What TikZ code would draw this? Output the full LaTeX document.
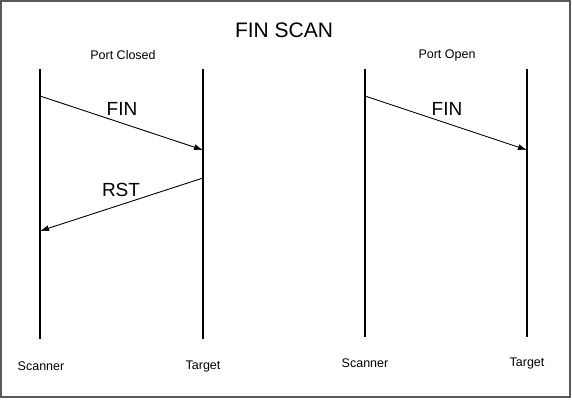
\documentclass[tikz,border=0pt]{standalone}
\usepackage{fontspec}
\setmainfont{Liberation Sans}
\usetikzlibrary{arrows.meta,positioning}

\begin{document}
\begin{tikzpicture}[x=1pt, y=-1pt,
  lifeline/.style={line width=1.3pt},
  msg/.style={line width=0.9pt, -{Latex[length=9pt,width=6pt]}},
  msglabel/.style={font=\fontsize{19}{22}\selectfont},
  smalllabel/.style={font=\fontsize{12.5}{15}\selectfont}]
\useasboundingbox (0,0) rectangle (572,402);
\draw[line width=1.5pt, black!65] (1,1) rectangle (570,397);
% --- titoli ---
\node[font=\fontsize{21}{25}\selectfont] (title) at (284,30) {FIN SCAN};
\node[smalllabel] (closed) at (123,55) {Port Closed};
\node[smalllabel] (open) at (447,55) {Port Open};
% --- linee di vita ---
\coordinate (sc1top) at (40,69);   \coordinate (sc1bot) at (40,339);
\coordinate (tg1top) at (203,69);  \coordinate (tg1bot) at (203,339);
\coordinate (sc2top) at (365,69);  \coordinate (sc2bot) at (365,337);
\coordinate (tg2top) at (527,69);  \coordinate (tg2bot) at (527,337);
\draw[lifeline] (sc1top) -- (sc1bot);
\draw[lifeline] (tg1top) -- (tg1bot);
\draw[lifeline] (sc2top) -- (sc2bot);
\draw[lifeline] (tg2top) -- (tg2bot);
\node[smalllabel] (sc1) at (41,366) {Scanner};
\node[smalllabel] (tg1) at (203,366) {Target};
\node[smalllabel] (sc2) at (365,363) {Scanner};
\node[smalllabel] (tg2) at (527,363) {Target};
% --- messaggi ---
\coordinate (fin1a) at (40,96);   \coordinate (fin1b) at (203,150);
\coordinate (rsta) at (203,178);  \coordinate (rstb) at (40,231);
\coordinate (fin2a) at (365,96);  \coordinate (fin2b) at (527,150);
\draw[msg] (fin1a) -- (fin1b);
\draw[msg] (rsta) -- (rstb);
\draw[msg] (fin2a) -- (fin2b);
\node[msglabel] (fin1) at (122,109) {FIN};
\node[msglabel] (rst) at (121,190) {RST};
\node[msglabel] (fin2) at (447,109) {FIN};
\end{tikzpicture}
\end{document}
